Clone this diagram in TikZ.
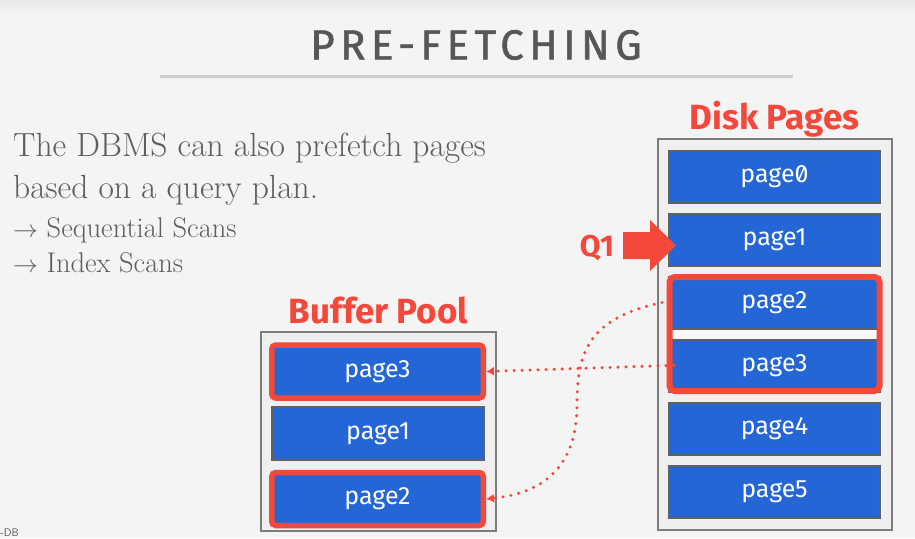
\documentclass[tikz,border=0pt]{standalone}
\usepackage{fontspec}
\usetikzlibrary{arrows.meta,fit,calc}
\newfontfamily\titlefont{Fira Sans}[LetterSpace=13, FakeBold=1.3]
\newfontfamily\labelfont{Fira Sans}
\newfontfamily\pagefont{Fira Sans}[RawFeature=+zero]
\definecolor{bg}{HTML}{F4F4F4}
\definecolor{bgtop}{HTML}{E8E8E8}
\definecolor{titlegray}{HTML}{575757}
\definecolor{textgray}{HTML}{5E5E5E}
\definecolor{rulegray}{HTML}{CFCFCF}
\definecolor{hlred}{HTML}{F4483B}
\definecolor{pageblue}{HTML}{2466D6}
\definecolor{pageedge}{HTML}{616161}
\definecolor{boxedge}{HTML}{7C7C7C}
\definecolor{boxfill}{HTML}{EFEFEF}
\definecolor{gapfill}{HTML}{F9F9F9}

\begin{document}
\begin{tikzpicture}[x=1pt,y=-1pt,
  pagebox/.style={draw=pageedge, line width=2pt, fill=pageblue, text=white,
    minimum width=211pt, minimum height=52pt, inner sep=0pt,
    font=\pagefont\fontsize{25}{25}\selectfont},
  hotpage/.style={pagebox, draw=hlred, line width=5.5pt, rounded corners=4pt,
    minimum width=211.5pt, minimum height=53pt},
  poolbox/.style={draw=boxedge, line width=2.5pt, fill=boxfill},
  redlabel/.style={text=hlred, inner sep=0pt,
    font=\labelfont\bfseries\fontsize{35}{35}\selectfont},
  bodytext/.style={text=textgray, anchor=base west, inner sep=0pt},
  fetch/.style={draw=hlred, line width=3.4pt, line cap=round,
    dash pattern=on 0pt off 8pt, -{Latex[length=8pt,width=9pt]}}
]
\useasboundingbox (0,0) rectangle (915,538);

% slide background
\fill[bg] (0,0) rectangle (915,538);
\shade[top color=bgtop, bottom color=bg] (0,0) rectangle (915,14);

% heading and rule
\node[font=\titlefont\fontsize{42}{42}\selectfont, text=titlegray] (title) at (476,45) {PRE-FETCHING};
\draw[rulegray, line width=3pt] (160,76) -- (793,76);

% body text
\node[bodytext, font=\fontsize{33.5}{34}\selectfont] (l1) at (13,156) {The DBMS can also prefetch pages};
\node[bodytext, font=\fontsize{33.5}{34}\selectfont] (l2) at (13,198) {based on a query plan.};
\node[bodytext, font=\fontsize{28.5}{28}\selectfont] (s1) at (13,237) {$\rightarrow$ Sequential Scans};
\node[bodytext, font=\fontsize{28.5}{28}\selectfont] (s2) at (13,272) {$\rightarrow$ Index Scans};

% disk pages
\node[redlabel, anchor=base] (disklabel) at (774.5,129) {Disk Pages};
\draw[poolbox] (658,139) rectangle (892,530);
\fill[gapfill] (668,276) rectangle (881,392);
\foreach \i in {0,...,5}{
  \node[pagebox] (d\i) at (774.5,{176.5+63*\i}) {page\i};
}
\node[draw=hlred, line width=6pt, rounded corners=5pt, inner sep=-1.5pt, fit=(d2)(d3)] (hot) {};

% query cursor
\fill[hlred] (623,232) -- (650,232) -- (650,220) -- (676,245.5) -- (650,271) -- (650,259) -- (623,259) -- cycle;
\node[redlabel, font=\labelfont\bfseries\fontsize{30}{30}\selectfont] (q1) at (597,248) {Q1};

% buffer pool
\node[redlabel, anchor=base] (poollabel) at (378.5,323) {Buffer Pool};
\draw[poolbox] (261,332) rectangle (496,531);
\node[hotpage] (b3) at (377.5,371.5) {page3};
\node[pagebox, minimum width=212pt, minimum height=53pt] (b1) at (378,433.5) {page1};
\node[hotpage] (b2) at (377.5,499) {page2};

% prefetch transfers
\draw[fetch, shorten <=-6pt] (d3.west) -- (b3.east);
\draw[fetch] ([xshift=-6pt]d2.west) .. controls (590,318) and (577,350) .. (577,405)
  .. controls (577,465) and (545,493) .. (b2.east);

% footer
\node[font=\sffamily\fontsize{11}{11}\selectfont, text=titlegray, anchor=base west, inner sep=0pt] (footer) at (0,536) {-DB};
\end{tikzpicture}
\end{document}
